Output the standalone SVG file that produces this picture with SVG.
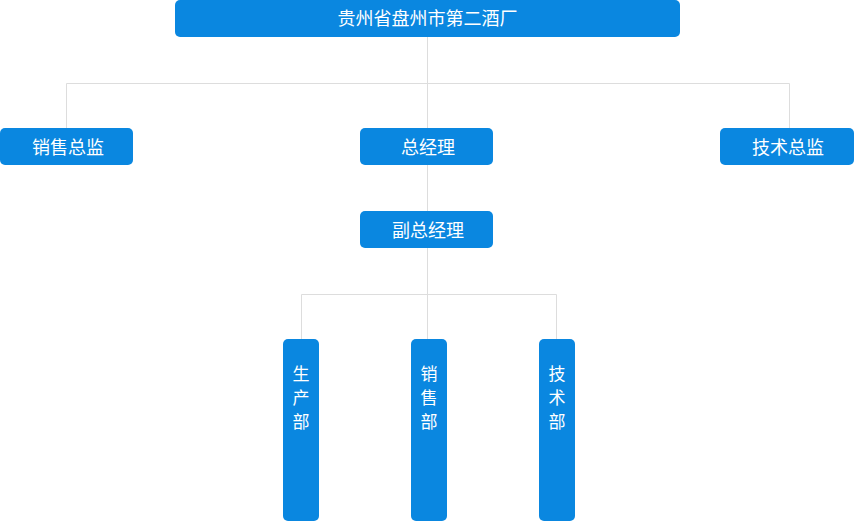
<svg xmlns="http://www.w3.org/2000/svg" width="854" height="521" viewBox="0 0 854 521">
<style>
.b{fill:#0a87e0}
.t{fill:#fff;font-family:"Noto Sans CJK SC","Noto Sans",sans-serif;font-size:18px;text-anchor:middle}
.v{fill:#fff;font-family:"Noto Sans CJK SC","Noto Sans",sans-serif;font-size:17px;text-anchor:middle}
.c{stroke:#dddddd;stroke-width:1;fill:none}
</style>
<rect width="854" height="521" fill="#fff"/>
<g id="connectors">
<path class="c" d="M427.5 37V128M66.5 128V83.5H789.5V128M427.5 165V211M427.5 248V339M301.5 339V294.5H556.5V339"/>
</g>
<g id="n0"><rect class="b" x="175" y="0" width="505" height="37" rx="5"/><text class="t" x="427.5" y="25">贵州省盘州市第二酒厂</text></g>
<g id="n1"><rect class="b" x="0" y="128" width="133" height="37" rx="5"/><text class="t" x="68" y="154">销售总监</text></g>
<g id="n2"><rect class="b" x="360" y="128" width="133" height="37" rx="5"/><text class="t" x="428" y="154">总经理</text></g>
<g id="n3"><rect class="b" x="720" y="128" width="134" height="37" rx="5"/><text class="t" x="788" y="154">技术总监</text></g>
<g id="n4"><rect class="b" x="360" y="211" width="133" height="37" rx="5"/><text class="t" x="428" y="237">副总经理</text></g>
<g id="n5"><rect class="b" x="283" y="339" width="36" height="182" rx="5"/><text class="v" x="301" y="380">生</text><text class="v" x="301" y="404">产</text><text class="v" x="301" y="428">部</text></g>
<g id="n6"><rect class="b" x="411" y="339" width="36" height="182" rx="5"/><text class="v" x="429" y="380">销</text><text class="v" x="429" y="404">售</text><text class="v" x="429" y="428">部</text></g>
<g id="n7"><rect class="b" x="539" y="339" width="36" height="182" rx="5"/><text class="v" x="557" y="380">技</text><text class="v" x="557" y="404">术</text><text class="v" x="557" y="428">部</text></g>
</svg>
